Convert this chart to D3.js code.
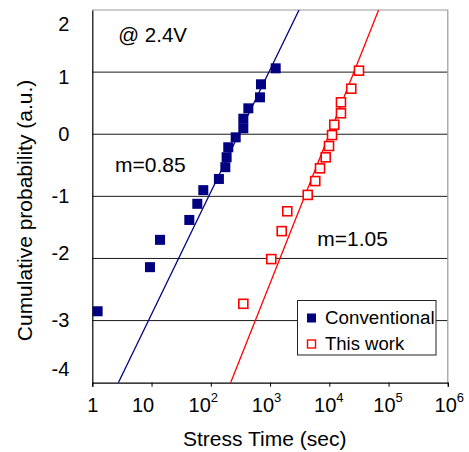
<!DOCTYPE html>
<html>
<head>
<meta charset="utf-8">
<script src="https://cdn.jsdelivr.net/npm/d3@7"></script>
<style>
  html, body { margin: 0; padding: 0; background: #fff; }
  svg { display: block; }
  text { font-family: "Liberation Sans", Arial, sans-serif; fill: #000; }
</style>
</head>
<body>
<svg id="chart" width="469" height="452"></svg>
<script>
// ---- data ----
const convTime = [1.23, 9.4, 13.9, 43.4, 59.2, 74.7, 137, 176, 185, 197, 263, 354, 354, 430, 676, 703, 1245];
const convProb = [-2.85, -2.14, -1.70, -1.38, -1.12, -0.90, -0.72, -0.53, -0.37, -0.21, -0.05, 0.095, 0.25, 0.417, 0.594, 0.804, 1.061];
const workTime = [354, 1050, 1573, 1954, 4318, 5800, 6970, 8690, 9890, 11120, 12140, 15740, 15740, 23500, 31700];
const workProb = [-2.73, -2.01, -1.56, -1.24, -0.977, -0.754, -0.549, -0.372, -0.19, -0.013, 0.153, 0.337, 0.514, 0.733, 1.023];
const convFitTime = [2.75, 3083];
const convFitProb = [-4, 2];
const workFitTime = [216, 67900];
const workFitProb = [-4, 2];
const xTickValues = [1, 10, 100, 1000, 10000, 100000, 1000000];
const xTickBase = ["1", "10", "10", "10", "10", "10", "10"];
const xTickExp = ["", "", "2", "3", "4", "5", "6"];
const yTickValues = [-4, -3, -2, -1, 0, 1, 2];
const gridValues = [-3, -2, -1, 0, 1];
const seriesNames = ["Conventional", "This work"];
const annotations = ["@ 2.4V", "m=0.85", "m=1.05"];

// ---- layout ----
const L = 92.3, R = 447.8, T = 10, B = 382.7;
const svg = d3.select("#chart");
const x = d3.scaleLog().domain([1, 1e6]).range([L, R]);
const y = d3.scaleLinear().domain([-4, 2]).range([B, T]);

svg.append("defs").append("clipPath").attr("id", "plotclip")
  .append("rect").attr("x", L).attr("y", T).attr("width", R - L).attr("height", B - T);

// gridlines
svg.append("g").selectAll("line").data(gridValues).join("line")
  .attr("x1", L).attr("x2", R)
  .attr("y1", d => y(d)).attr("y2", d => y(d))
  .attr("stroke", "#1a1a1a").attr("stroke-width", 1);

// top & right frame (gray)
svg.append("path")
  .attr("d", `M${L},${T}H${R}V${B}`)
  .attr("fill", "none").attr("stroke", "#999").attr("stroke-width", 1.2);

// x axis
const xLabelShift = [0, -9, -8, -4, -1, -1, 1];
const xAxis = svg.append("g").attr("transform", `translate(0,${B})`)
  .call(d3.axisBottom(x).tickValues(xTickValues).tickFormat(() => "").tickSizeOuter(0).tickSize(4));
xAxis.select(".domain").attr("stroke", "#000").attr("stroke-width", 1.2);
xAxis.selectAll(".tick line").attr("stroke", "#000");
xAxis.selectAll(".tick").each(function(d, i) {
  const t = d3.select(this).append("text")
    .attr("x", xLabelShift[i])
    .attr("y", 29.6).attr("text-anchor", "middle")
    .style("font-size", "20px");
  t.append("tspan").text(xTickBase[i]);
  if (xTickExp[i]) {
    t.append("tspan").attr("dy", -10).style("font-size", "13px").text(xTickExp[i]);
  }
});

// y axis
const yAxis = svg.append("g").attr("transform", `translate(${L},0)`)
  .call(d3.axisLeft(y).tickValues(yTickValues).tickSize(0).tickPadding(23).tickFormat(d => String(d)));
yAxis.select(".domain").attr("stroke", "#000").attr("stroke-width", 1.2);
yAxis.selectAll(".tick text").style("font-size", "20px").attr("fill", "#000")
  .attr("dy", d => d === 2 ? "1.0em" : d === -4 ? "-0.38em" : d === 1 ? "0.55em" : d === -2 ? "0.05em" : "0.32em");

// axis titles
svg.append("text").attr("x", 264.7).attr("y", 446)
  .attr("text-anchor", "middle").style("font-size", "21px").text("Stress Time (sec)");
svg.append("text").attr("transform", "translate(31.5,210.5) rotate(-90)")
  .attr("text-anchor", "middle").style("font-size", "21px").text("Cumulative probability (a.u.)");

// annotations
svg.append("text").attr("x", 118.3).attr("y", 41.5).style("font-size", "20.5px").text(annotations[0]);
svg.append("text").attr("x", 115).attr("y", 171.7).style("font-size", "21px").text(annotations[1]);
svg.append("text").attr("x", 317.3).attr("y", 246).style("font-size", "21px").text(annotations[2]);

// fit lines
const lineGen = d3.line().x(d => x(d[0])).y(d => y(d[1]));
const plot = svg.append("g").attr("clip-path", "url(#plotclip)");
plot.append("path").datum(convFitTime.map((t, i) => [t, convFitProb[i]]))
  .attr("d", lineGen).attr("fill", "none").attr("stroke", "#000080").attr("stroke-width", 1.3);
plot.append("path").datum(workFitTime.map((t, i) => [t, workFitProb[i]]))
  .attr("d", lineGen).attr("fill", "none").attr("stroke", "#ff0000").attr("stroke-width", 1.3);

// markers
const cs = 10;
svg.append("g").selectAll("rect").data(convTime.map((t, i) => [t, convProb[i]])).join("rect")
  .attr("x", d => x(d[0]) - cs / 2).attr("y", d => y(d[1]) - cs / 2)
  .attr("width", cs).attr("height", cs).attr("fill", "#000080");
const ws = 9;
svg.append("g").selectAll("rect").data(workTime.map((t, i) => [t, workProb[i]])).join("rect")
  .attr("x", d => x(d[0]) - ws / 2).attr("y", d => y(d[1]) - ws / 2)
  .attr("width", ws).attr("height", ws).attr("fill", "#fff")
  .attr("stroke", "#ff0000").attr("stroke-width", 1.6);

// legend
const lg = svg.append("g");
lg.append("rect").attr("x", 297.5).attr("y", 300.5).attr("width", 138.5).attr("height", 54.5)
  .attr("fill", "#fff").attr("stroke", "#222").attr("stroke-width", 1);
lg.append("rect").attr("x", 307).attr("y", 313.5).attr("width", 9).attr("height", 9).attr("fill", "#000080");
lg.append("rect").attr("x", 307.5).attr("y", 340).attr("width", 8).attr("height", 8)
  .attr("fill", "#fff").attr("stroke", "#ff0000").attr("stroke-width", 1.4);
lg.append("text").attr("x", 325).attr("y", 323.5).style("font-size", "18.8px").text(seriesNames[0]);
lg.append("text").attr("x", 325).attr("y", 350).style("font-size", "18.5px").text(seriesNames[1]);
</script>
</body>
</html>
